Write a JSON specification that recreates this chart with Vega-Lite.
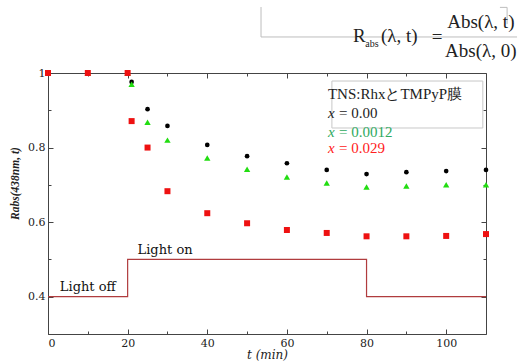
{
  "$schema": "https://vega.github.io/schema/vega-lite/v6.json",
  "width": 438,
  "height": 261,
  "autosize": "none",
  "padding": {"left": 48, "top": 73, "right": 32, "bottom": 27},
  "background": "white",
  "data": {"values": [{}]},
  "datasets": {
    "pts": [
      {"s": "a", "t": 0, "v": 1.0}, {"s": "a", "t": 10, "v": 1.0}, {"s": "a", "t": 20, "v": 1.0},
      {"s": "a", "t": 21, "v": 0.976}, {"s": "a", "t": 25, "v": 0.903}, {"s": "a", "t": 30, "v": 0.858},
      {"s": "a", "t": 40, "v": 0.807}, {"s": "a", "t": 50, "v": 0.777}, {"s": "a", "t": 60, "v": 0.758},
      {"s": "a", "t": 70, "v": 0.740}, {"s": "a", "t": 80, "v": 0.729}, {"s": "a", "t": 90, "v": 0.734},
      {"s": "a", "t": 100, "v": 0.737}, {"s": "a", "t": 110, "v": 0.740},
      {"s": "b", "t": 0, "v": 1.0}, {"s": "b", "t": 10, "v": 1.0}, {"s": "b", "t": 20, "v": 1.0},
      {"s": "b", "t": 21, "v": 0.970}, {"s": "b", "t": 25, "v": 0.868}, {"s": "b", "t": 30, "v": 0.820},
      {"s": "b", "t": 40, "v": 0.772}, {"s": "b", "t": 50, "v": 0.742}, {"s": "b", "t": 60, "v": 0.721},
      {"s": "b", "t": 70, "v": 0.705}, {"s": "b", "t": 80, "v": 0.694}, {"s": "b", "t": 90, "v": 0.697},
      {"s": "b", "t": 100, "v": 0.700}, {"s": "b", "t": 110, "v": 0.700},
      {"s": "c", "t": 0, "v": 1.0}, {"s": "c", "t": 10, "v": 1.0}, {"s": "c", "t": 20, "v": 1.0},
      {"s": "c", "t": 21, "v": 0.871}, {"s": "c", "t": 25, "v": 0.800}, {"s": "c", "t": 30, "v": 0.683},
      {"s": "c", "t": 40, "v": 0.624}, {"s": "c", "t": 50, "v": 0.597}, {"s": "c", "t": 60, "v": 0.579},
      {"s": "c", "t": 70, "v": 0.571}, {"s": "c", "t": 80, "v": 0.562}, {"s": "c", "t": 90, "v": 0.562},
      {"s": "c", "t": 100, "v": 0.563}, {"s": "c", "t": 110, "v": 0.568}
    ],
    "light": [
      {"i": 1, "t": 0, "v": 0.4}, {"i": 2, "t": 20, "v": 0.4}, {"i": 3, "t": 20, "v": 0.5},
      {"i": 4, "t": 80, "v": 0.5}, {"i": 5, "t": 80, "v": 0.4}, {"i": 6, "t": 110, "v": 0.4}
    ]
  },
  "resolve": {"axis": {"x": "independent", "y": "independent"}},
  "layer": [
    {
      "data": {"name": "light"},
      "mark": {"type": "line", "color": "#b03c3e", "strokeWidth": 1.2},
      "encoding": {
        "x": {"field": "t", "type": "quantitative", "scale": {"domain": [0, 110], "nice": false, "zero": false},
              "axis": {"orient": "top", "values": [10, 30, 50, 70, 90], "labels": false, "domain": false, "tickSize": -3, "title": null}},
        "y": {"field": "v", "type": "quantitative", "scale": {"domain": [0.3, 1], "nice": false, "zero": false},
              "axis": {"orient": "right", "values": [0.3, 0.5, 0.7, 0.9], "labels": false, "domain": false, "tickSize": -3, "title": null}},
        "order": {"field": "i"}
      }
    },
    {
      "data": {"name": "pts"},
      "transform": [{"filter": "datum.s === 'a'"}],
      "mark": {"type": "point", "shape": "circle", "filled": true, "color": "#000000", "size": 22, "opacity": 1},
      "encoding": {
        "x": {"field": "t", "type": "quantitative",
              "axis": {"orient": "bottom", "values": [0, 20, 40, 60, 80, 100], "tickSize": -5, "labelPadding": 8,
                       "title": "t (min)", "titleFont": "DejaVu Serif", "titleFontStyle": "italic", "titleFontWeight": "normal",
                       "titleFontSize": 12, "titleColor": "#222", "titlePadding": 1}},
        "y": {"field": "v", "type": "quantitative",
              "axis": {"orient": "left", "values": [0.4, 0.6, 0.8, 1], "format": "~g", "tickSize": -5, "labelPadding": 8,
                       "title": "Rabs(438nm, t)", "titleFont": "Liberation Serif", "titleFontStyle": "italic", "titleFontWeight": "bold",
                       "titleFontSize": 11.5, "titleColor": "#222", "titleX": -33, "titleY": 110, "titleBaseline": "middle", "titleAlign": "center"}}
      }
    },
    {
      "data": {"name": "pts"},
      "transform": [{"filter": "datum.s === 'b'"}],
      "mark": {"type": "point", "shape": "triangle-up", "filled": true, "color": "#22dd11", "size": 40, "opacity": 1},
      "encoding": {
        "x": {"field": "t", "type": "quantitative",
              "axis": {"orient": "top", "values": [0, 20, 40, 60, 80, 100], "labels": false, "tickSize": -5, "title": null}},
        "y": {"field": "v", "type": "quantitative",
              "axis": {"orient": "right", "values": [0.4, 0.6, 0.8, 1], "labels": false, "tickSize": -5, "title": null}}
      }
    },
    {
      "data": {"name": "pts"},
      "transform": [{"filter": "datum.s === 'c'"}],
      "mark": {"type": "point", "shape": "square", "filled": true, "color": "#ee1111", "size": 36, "opacity": 1},
      "encoding": {
        "x": {"field": "t", "type": "quantitative",
              "axis": {"orient": "bottom", "values": [10, 30, 50, 70, 90], "labels": false, "domain": false, "tickSize": -3, "title": null}},
        "y": {"field": "v", "type": "quantitative",
              "axis": {"orient": "left", "values": [0.3, 0.5, 0.7, 0.9], "labels": false, "domain": false, "tickSize": -3, "title": null}}
      }
    },
    {
      "mark": {"type": "text", "font": "DejaVu Serif", "fontSize": 13, "color": "#111", "align": "center", "baseline": "middle", "text": "Light off"},
      "encoding": {"x": {"datum": 10, "type": "quantitative", "axis": null}, "y": {"datum": 0.426, "type": "quantitative", "axis": null}}
    },
    {
      "mark": {"type": "text", "font": "DejaVu Serif", "fontSize": 13, "color": "#111", "align": "center", "baseline": "middle", "text": "Light on"},
      "encoding": {"x": {"datum": 29.4, "type": "quantitative", "axis": null}, "y": {"datum": 0.525, "type": "quantitative", "axis": null}}
    },
    {
      "mark": {"type": "rect", "fill": null, "stroke": "#c8c8c8", "strokeWidth": 1},
      "encoding": {"x": {"datum": 71.3, "type": "quantitative", "axis": null}, "x2": {"datum": 109.2},
                   "y": {"datum": 0.9785, "type": "quantitative", "axis": null}, "y2": {"datum": 0.8525}}
    },
    {
      "mark": {"type": "text", "font": "Liberation Serif", "fontSize": 15, "color": "#222", "align": "left", "baseline": "middle", "text": "TNS:RhxとTMPyP膜"},
      "encoding": {"x": {"datum": 70.3, "type": "quantitative", "axis": null}, "y": {"datum": 0.944, "type": "quantitative", "axis": null}}
    },
    {
      "mark": {"type": "text", "font": "Liberation Serif", "fontSize": 15, "fontStyle": "italic", "color": "#222", "align": "left", "baseline": "middle", "text": "x"},
      "encoding": {"x": {"datum": 70.3, "type": "quantitative", "axis": null}, "y": {"datum": 0.893, "type": "quantitative", "axis": null}}
    },
    {
      "mark": {"type": "text", "font": "Liberation Serif", "fontSize": 15, "color": "#222", "align": "left", "baseline": "middle", "dx": 11, "text": "= 0.00"},
      "encoding": {"x": {"datum": 70.3, "type": "quantitative", "axis": null}, "y": {"datum": 0.893, "type": "quantitative", "axis": null}}
    },
    {
      "mark": {"type": "text", "font": "Liberation Serif", "fontSize": 15, "fontStyle": "italic", "color": "#2eaa5e", "align": "left", "baseline": "middle", "text": "x"},
      "encoding": {"x": {"datum": 70.3, "type": "quantitative", "axis": null}, "y": {"datum": 0.842, "type": "quantitative", "axis": null}}
    },
    {
      "mark": {"type": "text", "font": "Liberation Serif", "fontSize": 15, "color": "#2eaa5e", "align": "left", "baseline": "middle", "dx": 11, "text": "= 0.0012"},
      "encoding": {"x": {"datum": 70.3, "type": "quantitative", "axis": null}, "y": {"datum": 0.842, "type": "quantitative", "axis": null}}
    },
    {
      "mark": {"type": "text", "font": "Liberation Serif", "fontSize": 15, "fontStyle": "italic", "color": "#ff2020", "align": "left", "baseline": "middle", "text": "x"},
      "encoding": {"x": {"datum": 70.3, "type": "quantitative", "axis": null}, "y": {"datum": 0.799, "type": "quantitative", "axis": null}}
    },
    {
      "mark": {"type": "text", "font": "Liberation Serif", "fontSize": 15, "color": "#ff2020", "align": "left", "baseline": "middle", "dx": 11, "text": "= 0.029"},
      "encoding": {"x": {"datum": 70.3, "type": "quantitative", "axis": null}, "y": {"datum": 0.799, "type": "quantitative", "axis": null}}
    },
    {
      "mark": {"type": "rule", "color": "#bdbdbd", "strokeWidth": 1},
      "encoding": {"x": {"datum": 53.5, "type": "quantitative", "axis": null}, "y": {"datum": 1.177, "type": "quantitative", "axis": null}, "y2": {"datum": 1.0966}}
    },
    {
      "mark": {"type": "rule", "color": "#bdbdbd", "strokeWidth": 1},
      "encoding": {"x": {"datum": 53.5, "type": "quantitative", "axis": null}, "x2": {"datum": 117.8}, "y": {"datum": 1.0966, "type": "quantitative", "axis": null}}
    },
    {
      "mark": {"type": "rule", "color": "#bdbdbd", "strokeWidth": 1},
      "encoding": {"x": {"datum": 115.3, "type": "quantitative", "axis": null}, "y": {"datum": 1.176, "type": "quantitative", "axis": null}, "y2": {"datum": 1.131}}
    },
    {
      "mark": {"type": "rule", "color": "#bdbdbd", "strokeWidth": 1},
      "encoding": {"x": {"datum": 113.5, "type": "quantitative", "axis": null}, "x2": {"datum": 115.3}, "y": {"datum": 1.176, "type": "quantitative", "axis": null}}
    },
    {
      "mark": {"type": "text", "font": "Liberation Serif", "fontSize": 19, "color": "#222", "align": "left", "baseline": "middle", "text": "R"},
      "encoding": {"x": {"datum": 76.6, "type": "quantitative", "axis": null}, "y": {"datum": 1.100, "type": "quantitative", "axis": null}}
    },
    {
      "mark": {"type": "text", "font": "Liberation Serif", "fontSize": 10, "color": "#222", "align": "left", "baseline": "middle", "text": "abs"},
      "encoding": {"x": {"datum": 79.7, "type": "quantitative", "axis": null}, "y": {"datum": 1.078, "type": "quantitative", "axis": null}}
    },
    {
      "mark": {"type": "text", "font": "Liberation Serif", "fontSize": 19, "color": "#222", "align": "left", "baseline": "middle", "text": "(λ, t)"},
      "encoding": {"x": {"datum": 83.6, "type": "quantitative", "axis": null}, "y": {"datum": 1.100, "type": "quantitative", "axis": null}}
    },
    {
      "mark": {"type": "text", "font": "Liberation Serif", "fontSize": 19, "color": "#222", "align": "center", "baseline": "middle", "text": "="},
      "encoding": {"x": {"datum": 97.7, "type": "quantitative", "axis": null}, "y": {"datum": 1.097, "type": "quantitative", "axis": null}}
    },
    {
      "mark": {"type": "text", "font": "Liberation Serif", "fontSize": 19, "color": "#222", "align": "center", "baseline": "middle", "text": "Abs(λ, t)"},
      "encoding": {"x": {"datum": 108.7, "type": "quantitative", "axis": null}, "y": {"datum": 1.137, "type": "quantitative", "axis": null}}
    },
    {
      "mark": {"type": "text", "font": "Liberation Serif", "fontSize": 19, "color": "#222", "align": "center", "baseline": "middle", "text": "Abs(λ, 0)"},
      "encoding": {"x": {"datum": 108.7, "type": "quantitative", "axis": null}, "y": {"datum": 1.059, "type": "quantitative", "axis": null}}
    }
  ],
  "config": {
    "view": {"stroke": null},
    "axis": {
      "grid": false,
      "domainColor": "#444",
      "tickColor": "#444",
      "labelFont": "DejaVu Serif",
      "labelFontSize": 11,
      "labelColor": "#222"
    }
  }
}
